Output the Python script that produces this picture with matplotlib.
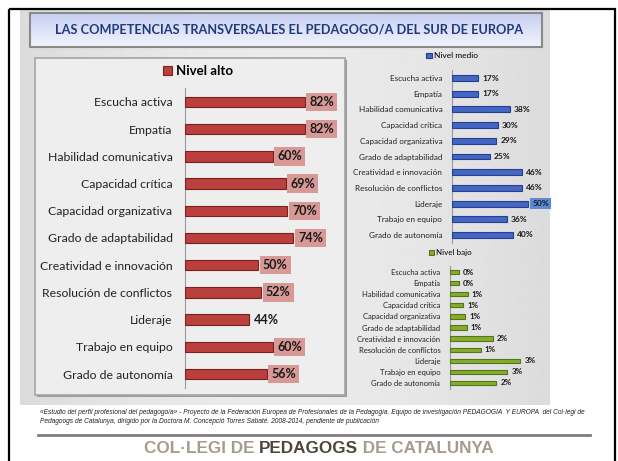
import matplotlib
matplotlib.use('Agg')
import matplotlib.pyplot as plt
from matplotlib.patches import Rectangle
import numpy as np

plt.rcParams['font.family'] = ['Lato', 'DejaVu Sans']

# Data
categories = ['Escucha activa', 'Empatía', 'Habilidad comunicativa', 'Capacidad crítica',
              'Capacidad organizativa', 'Grado de adaptabilidad', 'Creatividad e innovación',
              'Resolución de conflictos', 'Lideraje', 'Trabajo en equipo', 'Grado de autonomía']
nivel_alto = [82, 82, 60, 69, 70, 74, 50, 52, 44, 60, 56]
nivel_medio = [17, 17, 38, 30, 29, 25, 46, 46, 50, 36, 40]
nivel_bajo = [0.4, 0.4, 0.8, 0.6, 0.7, 0.75, 1.95, 1.4, 3.2, 2.6, 2.1]
bajo_labels = ['0%', '0%', '1%', '1%', '1%', '1%', '2%', '1%', '3%', '3%', '2%']

title = 'LAS COMPETENCIAS TRANSVERSALES EL PEDAGOGO/A DEL SUR DE EUROPA'
note = ('«Estudio del perfil profesional del pedagogo/a» - Proyecto de la Federación Europea de '
        'Profesionales de la Pedagogía. Equipo de investigación PEDAGOGIA  Y EUROPA  del Col·legi de\n'
        'Pedagoogs de Catalunya, dirigido por la Doctora M. Concepció Torres Sabaté. 2008-2014, '
        'pendiente de publicación')

W, H = 618, 461
fig = plt.figure(figsize=(W / 100, H / 100), dpi=100)
fig.patch.set_facecolor('white')

# background decoration in pixel coordinates
bg = fig.add_axes([0, 0, 1, 1])
bg.set_xlim(0, W)
bg.set_ylim(H, 0)
bg.axis('off')

# gray panel with soft gradient
grad = np.linspace(0, 1, 256).reshape(1, -1)
bg.imshow(0.86 + 0.06 * np.sin(grad * np.pi), cmap='gray', vmin=0, vmax=1,
          extent=[20, 550, 405, 10], aspect='auto', zorder=1)
bg.add_patch(Rectangle((9, 9), 606, 470, fill=False, ec='black', lw=1.6, zorder=5))

# title box
tgrad = np.linspace(0, 1, 64).reshape(-1, 1)
top_c = np.array([0.78, 0.81, 0.95])
bot_c = np.array([0.95, 0.96, 0.99])
timg = top_c + (bot_c - top_c) * tgrad[:, :, None]
bg.imshow(timg, extent=[30, 542, 47, 13], aspect='auto', zorder=2)
bg.add_patch(Rectangle((30, 13), 512, 34, fill=False, ec='#8a8a8a', lw=1.5, zorder=3))
bg.text(289, 30, title, ha='center', va='center', fontsize=9.2, fontweight='bold',
        color='#1F3B7A', zorder=4)

# left chart box
bg.add_patch(Rectangle((37, 60), 310, 337, fc='#9a9a9a', ec='none', zorder=2))
bg.add_patch(Rectangle((35, 58), 310, 337, fc='#EEEEEE', ec='#A5A5A5', lw=1.2, zorder=3))

# footnote and footer
bg.text(40, 417, note, ha='left', va='center', fontsize=4.78, style='italic',
        family='Liberation Sans', color='#222222', linespacing=1.3, zorder=4)
bg.plot([38, 590], [435, 435], color='#7f7f7f', lw=2, zorder=4)

parts = [('COL·LEGI DE ', '#A59C8E'), ('PEDAGOGS', '#4E463C'), (' DE CATALUNYA', '#A59C8E')]
fig.canvas.draw()
r = fig.canvas.get_renderer()
widths = []
for s, c in parts:
    t = bg.text(0, 0, s, fontsize=12.3, fontweight='bold', family='Liberation Sans')
    widths.append(t.get_window_extent(r).width)
    t.remove()
x = 319 - sum(widths) / 2
for (s, c), w in zip(parts, widths):
    bg.text(x, 448, s, ha='left', va='center', fontsize=12.3, fontweight='bold',
            family='Liberation Sans', color=c, zorder=4)
    x += w


def px_axes(x0, ytop, ybot, width):
    return fig.add_axes([x0 / W, 1 - ybot / H, width / W, (ybot - ytop) / H])


def bar_chart(ax, vals, labels, color, edge, lab_fs, cat_fs, box_idx, box_color, off, bh, xmax,
              pad):
    y = np.arange(len(vals))
    bars = ax.barh(y, vals, height=bh, color=color, edgecolor=edge, linewidth=0.8, zorder=3)
    ax.set_xlim(0, xmax)
    ax.set_ylim(len(vals) - 0.5, -0.5)
    ax.set_yticks(y)
    ax.set_yticklabels(categories, fontsize=cat_fs, color='#222222')
    ax.tick_params(axis='y', length=0, pad=pad)
    ax.set_xticks([])
    for s in ['top', 'right', 'bottom']:
        ax.spines[s].set_visible(False)
    ax.spines['left'].set_color('#9a9a9a')
    ax.spines['left'].set_linewidth(0.8)
    ax.patch.set_alpha(0)
    for i, (v, lab) in enumerate(zip(vals, labels)):
        kw = {}
        if i in box_idx:
            kw['bbox'] = dict(boxstyle='square,pad=0.25', fc=box_color, ec='none')
        ax.annotate(lab, (v, i), xytext=(off, 0), textcoords='offset points',
                    ha='left', va='center', fontsize=lab_fs, fontweight='bold',
                    color='#1a1a1a', **kw)
    return bars


# Nivel alto
ax1 = px_axes(185, 88.4, 387.6, 146)
b1 = bar_chart(ax1, nivel_alto, [f'{v}%' for v in nivel_alto], '#B9403D', '#7A2220',
               9, 8.8, [0, 1, 2, 3, 4, 5, 6, 7, 9, 10], '#D79896', 3.5, 0.38, 100, 9)
fig.legend([b1], ['Nivel alto'], loc='center', bbox_to_anchor=(198 / W, 1 - 71 / H),
           frameon=False, prop={'size': 9.5, 'weight': 'bold'}, handlelength=0.7,
           handleheight=0.7, handletextpad=0.3)

# Nivel medio
ax2 = px_axes(452, 70.2, 242.8, 152)
b2 = bar_chart(ax2, nivel_medio, [f'{v}%' for v in nivel_medio], '#4467C4', '#233F8E',
               6, 5.9, [8], '#5B8AD6', 3, 0.38, 100, 7)
fig.legend([b2], ['Nivel medio'], loc='center', bbox_to_anchor=(452 / W, 1 - 56 / H),
           frameon=False, prop={'size': 6}, handlelength=0.7, handleheight=0.7,
           handletextpad=0.2)

# Nivel bajo
ax3 = px_axes(450, 266.5, 388.5, 110)
b3 = bar_chart(ax3, nivel_bajo, bajo_labels, '#86AC2F', '#557519',
               5.8, 5.5, [], None, 3, 0.38, 5, 7)
fig.legend([b3], ['Nivel bajo'], loc='center', bbox_to_anchor=(450 / W, 1 - 253 / H),
           frameon=False, prop={'size': 5.8}, handlelength=0.7, handleheight=0.7,
           handletextpad=0.2)

fig.savefig('out.png', dpi=100)
